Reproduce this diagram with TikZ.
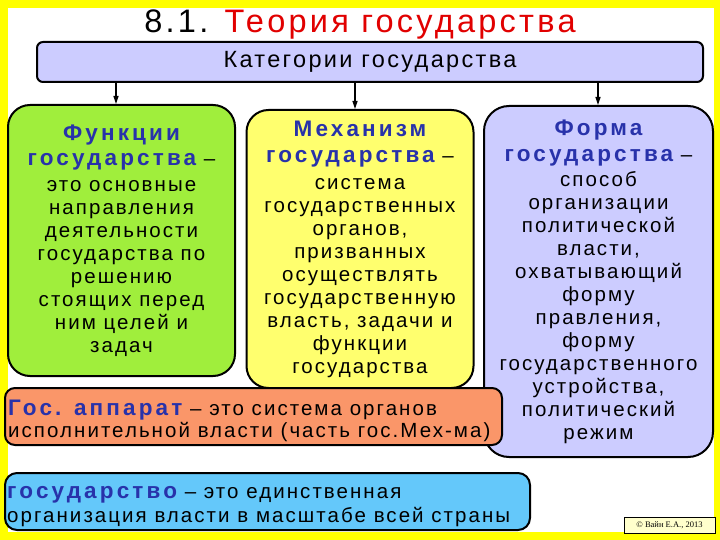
\documentclass[tikz,border=0pt]{standalone}
\usepackage{fontspec}
\setmainfont[LetterSpace=10]{Liberation Sans}
\newfontfamily\copyfont{Liberation Serif}
\usetikzlibrary{arrows.meta}
\definecolor{frameyellow}{RGB}{255,255,0}
\definecolor{catlav}{RGB}{204,204,255}
\definecolor{fgreen}{RGB}{160,238,60}
\definecolor{fyellow}{RGB}{255,255,110}
\definecolor{forange}{RGB}{250,150,105}
\definecolor{fblue}{RGB}{100,200,250}
\definecolor{hblue}{RGB}{40,50,170}
\definecolor{tred}{RGB}{225,0,0}
\definecolor{cpy}{RGB}{255,255,204}
\tikzset{
  box/.style={draw=black, line width=2pt, inner sep=0pt},
  bigtext/.style={align=center, font=\fontsize{20.5}{23}\selectfont},
  arr/.style={line width=1.2pt, -{Triangle[length=8pt,width=5pt]}},
}
\newcommand{\hd}[1]{{\bfseries\color{hblue}\fontsize{22.5}{23}\selectfont\addfontfeature{LetterSpace=14}#1}}
\begin{document}
\begin{tikzpicture}[x=1pt,y=-1pt]
\useasboundingbox (0,0) rectangle (720,540);
\fill[frameyellow] (0,0) rectangle (720,540);
\fill[white] (8,8) rectangle (714,532);

\node[anchor=base, font=\fontsize{32.5}{36}\selectfont] (title) at (360,33)
  {8.1. \textcolor{tred}{Теория государства}};

\node[box, fill=catlav, rounded corners=6pt, minimum width=666pt, minimum height=40pt,
  font=\fontsize{23.5}{26}\selectfont] (cat) at (370,62) {Категории государства};

\node[box, fill=fgreen, rounded corners=22pt, minimum width=227pt, minimum height=271pt, bigtext]
  (green) at (121.5,240.5)
  {\hd{Функции}\\[2pt]\hd{государства} –\\[3pt]
   это основные\\направления\\деятельности\\государства по\\решению\\стоящих перед\\ним целей и\\задач};

\node[box, fill=fyellow, rounded corners=22pt, minimum width=227pt, minimum height=278pt, bigtext]
  (mech) at (360,249)
  {\hd{Механизм}\\[3pt]\hd{государства} –\\[4pt]
   система\\государственных\\органов,\\призванных\\осуществлять\\государственную\\власть, задачи и\\функции\\государства};

\node[box, fill=catlav, rounded corners=25pt, minimum width=229pt, minimum height=351pt, bigtext]
  (form) at (598.5,281.5)
  {\hd{Форма}\\[3pt]\hd{государства} –\\[2pt]
   способ\\организации\\политической\\власти,\\охватывающий\\форму\\правления,\\форму\\государственного\\устройства,\\политический\\режим};

\coordinate (a1) at (116,0);
\coordinate (a2) at (355,0);
\coordinate (a3) at (598,0);
\draw[arr] (a1 |- cat.south) -- (a1 |- green.north);
\draw[arr] (a2 |- cat.south) -- (a2 |- mech.north);
\draw[arr] (a3 |- cat.south) -- (a3 |- form.north);

\node[box, fill=forange, rounded corners=10pt, minimum width=497pt, minimum height=57pt]
  (app) at (253.5,416.5) {};
\node[anchor=base west, align=left, inner sep=0pt, font=\fontsize{20.5}{22}\selectfont]
  (apptext) at (8,437)
  {\hd{Гос. аппарат} – это система органов\\исполнительной власти (часть гос.Мех-ма)};

\node[box, fill=fblue, rounded corners=12pt, minimum width=525pt, minimum height=57pt]
  (state) at (267.5,501.5) {};
\node[anchor=base west, align=left, inner sep=0pt, font=\fontsize{20.5}{24}\selectfont]
  (statetext) at (7,522)
  {\hd{государство} – это единственная\\организация власти в масштабе всей страны};

\node[draw=black, line width=0.8pt, fill=cpy, minimum width=91pt, minimum height=16pt, inner sep=0pt,
  font=\copyfont\fontsize{8.5}{10}\selectfont] (copy) at (669.5,525) {© Вайн Е.А., 2013};
\end{tikzpicture}
\end{document}
